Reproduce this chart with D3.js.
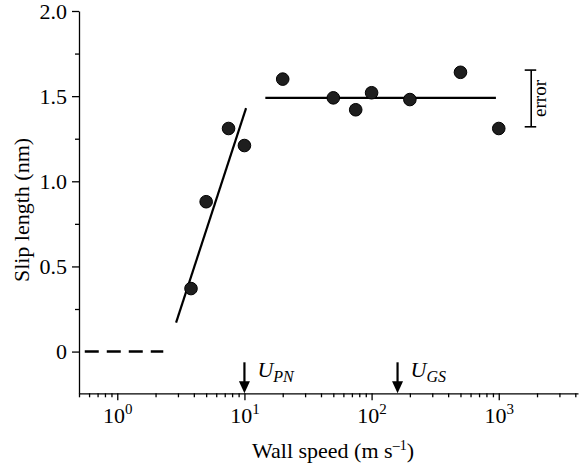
<!DOCTYPE html>
<html lang="en">
<head>
<meta charset="utf-8">
<title>Slip length vs wall speed</title>
<script src="https://d3js.org/d3.v7.min.js"></script>
<style>
  body { margin:0; background:#fff; }
  svg, svg text { font-family:"Liberation Serif","Times New Roman",Times,serif !important; }
  .axis path, .axis line { stroke:#000; stroke-width:1.3px; }
  .axis text { fill:#000; }
</style>
</head>
<body>
<svg width="579" height="468"></svg>
<script>
// data
var speeds = [3.8, 5, 7.5, 10, 20, 50, 75, 100, 200, 500, 1000];
var slip   = [0.37, 0.88, 1.31, 1.21, 1.60, 1.49, 1.42, 1.52, 1.48, 1.64, 1.31];

var riseFit    = [[2.9, 0.17], [10.3, 1.43]];
var plateauFit = [[14.6, 1.49], [950, 1.49]];
var noSlip     = [[0.555, 0], [2.3, 0]];

var markers = [{speed: 10, label: "U", sub: "PN"}, {speed: 160, label: "U", sub: "GS"}];
var errorBar = {speed: 1800, lo: 1.32, hi: 1.653};

var yTicks = [0, 0.5, 1.0, 1.5, 2.0];
var yMinor = [0.25, 0.75, 1.25, 1.75];
var xTicks = [1, 10, 100, 1000];
var xTickLabels = ["0", "1", "2", "3"];

var svg = d3.select("svg");

var x = d3.scaleLog().domain([0.5, 4200]).range([79, 578]);
var y = d3.scaleLinear().domain([-0.245, 2.0]).range([393.3, 11]);

// minor x ticks: every integer multiple in each decade
var xMinor = [];
[0.1, 1, 10, 100, 1000].forEach(function(d) {
  for (var k = 2; k <= 9; k++) {
    var v = d * k;
    if (v >= 0.5 && v <= 4200) xMinor.push(v);
  }
});

// x axis
svg.append("g").attr("class", "axis")
  .attr("transform", "translate(0," + y.range()[0] + ")")
  .call(d3.axisBottom(x).tickValues(xMinor).tickSize(4).tickSizeOuter(0).tickFormat(""));

var gx = svg.append("g").attr("class", "axis")
  .attr("transform", "translate(0," + y.range()[0] + ")")
  .call(d3.axisBottom(x).tickValues(xTicks).tickSize(7).tickSizeOuter(0).tickFormat(""));
gx.select(".domain").remove();
gx.selectAll(".tick").append("text")
  .attr("y", 30).attr("text-anchor", "middle").style("font-size", "22px")
  .each(function(d, i) {
    var t = d3.select(this);
    t.append("tspan").text("10");
    t.append("tspan").attr("dy", -9).style("font-size", "15px").text(xTickLabels[i]);
  });

// y axis
svg.append("g").attr("class", "axis")
  .attr("transform", "translate(" + x.range()[0] + ",0)")
  .call(d3.axisLeft(y).tickValues(yMinor).tickSize(4).tickSizeOuter(0).tickFormat(""));

var gy = svg.append("g").attr("class", "axis")
  .attr("transform", "translate(" + x.range()[0] + ",0)")
  .call(d3.axisLeft(y).tickValues(yTicks).tickSize(7).tickSizeOuter(0)
    .tickFormat(function(d) { return d === 0 ? "0" : d3.format(".1f")(d); }));
gy.select(".domain").remove();
gy.selectAll(".tick text").attr("x", -12).style("font-size", "22px");

// axis titles
svg.append("text")
  .attr("transform", "translate(29," + 210 + ") rotate(-90)")
  .attr("text-anchor", "middle").style("font-size", "22px")
  .text("Slip length (nm)");

var xt = svg.append("text")
  .attr("x", 333).attr("y", 458)
  .attr("text-anchor", "middle").style("font-size", "22px");
xt.append("tspan").text("Wall speed (m s");
xt.append("tspan").attr("dy", -8).style("font-size", "14px").text("\u20131");
xt.append("tspan").attr("dy", 8).text(")");

// fits
var line = d3.line().x(function(d) { return x(d[0]); }).y(function(d) { return y(d[1]); });

svg.append("path").datum(riseFit).attr("d", line)
  .attr("fill", "none").attr("stroke", "#000").attr("stroke-width", 2.2);
svg.append("path").datum(plateauFit).attr("d", line)
  .attr("fill", "none").attr("stroke", "#000").attr("stroke-width", 2.2);
svg.append("path").datum(noSlip).attr("d", line)
  .attr("fill", "none").attr("stroke", "#000").attr("stroke-width", 2.5)
  .attr("stroke-dasharray", "14,8");

// points
svg.selectAll("circle.pt").data(speeds).enter().append("circle")
  .attr("class", "pt")
  .attr("cx", function(d) { return x(d); })
  .attr("cy", function(d, i) { return y(slip[i]); })
  .attr("r", 6.3)
  .attr("fill", "#1e1e1e").attr("stroke", "#000").attr("stroke-width", 1);

// arrows marking characteristic speeds
var base = y.range()[0];
var mk = svg.selectAll("g.marker").data(markers).enter().append("g").attr("class", "marker");
mk.append("line")
  .attr("x1", function(d) { return x(d.speed); }).attr("x2", function(d) { return x(d.speed); })
  .attr("y1", base - 31).attr("y2", base - 10)
  .attr("stroke", "#000").attr("stroke-width", 2.2);
mk.append("path")
  .attr("d", function(d) {
    var cx = x(d.speed);
    return "M" + (cx - 5.5) + "," + (base - 12) + "L" + (cx + 5.5) + "," + (base - 12) + "L" + cx + "," + base + "Z";
  })
  .attr("fill", "#000");
var lab = mk.append("text")
  .attr("x", function(d) { return x(d.speed) + 13; }).attr("y", base - 16)
  .style("font-size", "22px").style("font-style", "italic");
lab.append("tspan").text(function(d) { return d.label; });
lab.append("tspan").attr("dy", 5).style("font-size", "16px").text(function(d) { return d.sub; });

// error scale bar
var ex = x(errorBar.speed);
svg.append("line").attr("x1", ex).attr("x2", ex)
  .attr("y1", y(errorBar.hi)).attr("y2", y(errorBar.lo))
  .attr("stroke", "#000").attr("stroke-width", 1.6);
[errorBar.hi, errorBar.lo].forEach(function(v) {
  svg.append("line").attr("x1", ex - 6.5).attr("x2", ex + 5)
    .attr("y1", y(v)).attr("y2", y(v))
    .attr("stroke", "#000").attr("stroke-width", 1.6);
});
svg.append("text")
  .attr("transform", "translate(" + (ex + 15) + "," + y((errorBar.hi + errorBar.lo) / 2) + ") rotate(-90)")
  .attr("text-anchor", "middle").style("font-size", "19px")
  .text("error");
</script>
</body>
</html>
